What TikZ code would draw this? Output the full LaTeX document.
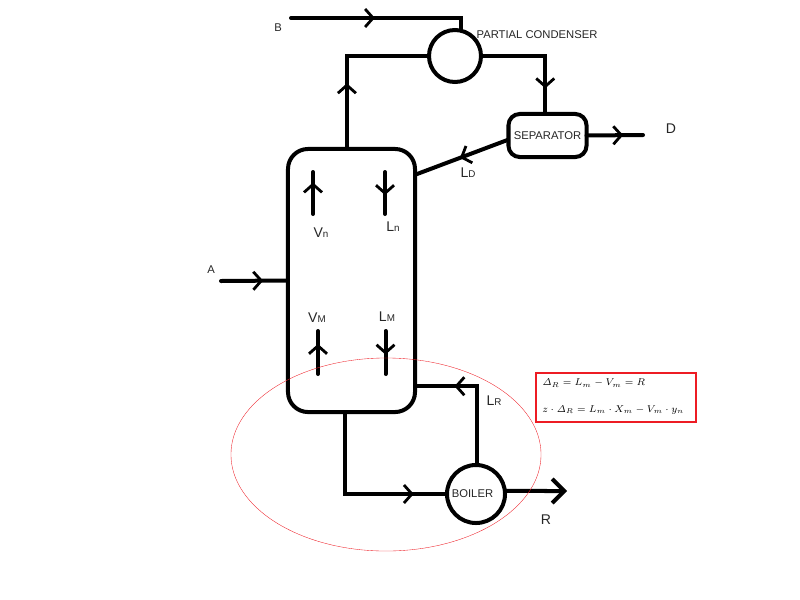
\documentclass[tikz,border=0pt]{standalone}
\usepackage[no-math]{fontspec}
\setmainfont{Liberation Sans}
\usetikzlibrary{arrows.meta,decorations.markings,shapes.geometric}
\definecolor{markred}{HTML}{ED1C24}
\tikzset{
pipe/.style={line width=0.1cm,line join=miter},
flowmark/.style={postaction={decorate,decoration={markings,mark=at position #1 with {\arrow[line width=0.07cm]{Straight Barb[length=0.2cm,width=0.45cm]}}}}},
unit/.style={draw,line width=0.1cm,inner sep=0pt,outer sep=0pt,font=\fontsize{8}{9}\selectfont,text=black!85},
lbl/.style={font=\fontsize{10}{12}\selectfont,text=black!85,inner sep=0pt},
smalllbl/.style={font=\fontsize{8}{10}\selectfont,text=black!85,inner sep=0pt},
eqn/.style={inner sep=0pt,font=\fontsize{7.5}{9}\selectfont,anchor=west}
}
\newcommand{\sub}[1]{{\fontsize{7}{8}\selectfont #1}}
\begin{document}
\begin{tikzpicture}[x=0.025cm,y=-0.025cm]
\useasboundingbox (0,0) rectangle (800,599);
% equipment
\node[unit,rectangle,rounded corners=0.5cm,minimum width=3.175cm,minimum height=6.575cm] (column) at (351.5,280.5) {};
\node[unit,circle,minimum size=1.3cm] (condenser) at (455,56) {};
\node[unit,rectangle,rounded corners=0.28cm,minimum width=1.95cm,minimum height=1.075cm] (separator) at (547.5,135.5) {SEPARATOR};
\node[unit,circle,minimum size=1.45cm] (boiler) at (476,494) {\hspace*{-5pt}BOILER};
% free ends
\coordinate (Bin) at (291,18);
\coordinate (Ain) at (221,281);
\coordinate (Dout) at (643,135);
\coordinate (Rout) at (567,491);
\coordinate (VnA) at (313,214); \coordinate (VnB) at (313,172);
\coordinate (LnA) at (385,172); \coordinate (LnB) at (385,214);
\coordinate (VmA) at (318,374); \coordinate (VmB) at (318,331);
\coordinate (LmA) at (385.5,331); \coordinate (LmB) at (385.5,374);
% streams
\draw[pipe,line cap=round,flowmark=0.46] (Bin) -| (condenser.77);
\draw[pipe,flowmark=0.375] (column.92.4) |- (condenser.west);
\draw[pipe,flowmark=0.79] (condenser.east) -| (separator.96.6);
\draw[pipe,flowmark=0.52] (separator.186.7) -- (column.59.4);
\draw[pipe,line cap=round,flowmark=0.65] (separator.east) -- (Dout);
\draw[pipe,line cap=round,flowmark=0.63] (Ain) -- (column.west);
\draw[pipe,flowmark=0.82] (column.267.6) |- (boiler.west);
\draw[pipe,flowmark=0.72] (boiler.88) |- (column.-59.2);
\draw[pipe,-{Straight Barb[length=0.3cm,width=0.6cm]}] (boiler.6) -- (Rout);
% inside the column
\draw[pipe,line cap=round,flowmark=0.75] (VnA) -- (VnB);
\draw[pipe,line cap=round,flowmark=0.55] (LnA) -- (LnB);
\draw[pipe,line cap=round,flowmark=0.7] (VmA) -- (VmB);
\draw[pipe,line cap=round,flowmark=0.55] (LmA) -- (LmB);
% labels
\node[smalllbl] (labB) at (278,28) {B};
\node[smalllbl] (labA) at (211,270) {A};
\node[smalllbl] (labPC) at (537,35) {PARTIAL CONDENSER};
\node[lbl] (labD) at (671,129) {D};
\node[lbl] (labR) at (546,520) {R};
\node[lbl] (labLD) at (468,173) {L\sub{D}};
\node[lbl] (labLR) at (494,401) {L\sub{R}};
\node[lbl] (labVn) at (321,233) {V\sub{n}};
\node[lbl] (labLn) at (393,227) {L\sub{n}};
\node[lbl] (labVM) at (317,318) {V\sub{M}};
\node[lbl] (labLM) at (387,317) {L\sub{M}};
% red marks
\node[draw=markred,line width=0.25pt,ellipse,minimum width=7.75cm,minimum height=4.825cm,inner sep=0pt] (envelope) at (386,454.5) {};
\node[draw=markred,line width=0.06cm,minimum width=4cm,minimum height=1.225cm,inner sep=0pt,outer sep=0pt] (balance) at (616,397.5) {};
\node[eqn] (eqA) at (542,383) {$\mathit{\Delta}_R = L_m - V_m = R$};
\node[eqn] (eqB) at (542,410) {$z\cdot\mathit{\Delta}_R = L_m\cdot X_m - V_m\cdot y_n$};
\end{tikzpicture}
\end{document}
